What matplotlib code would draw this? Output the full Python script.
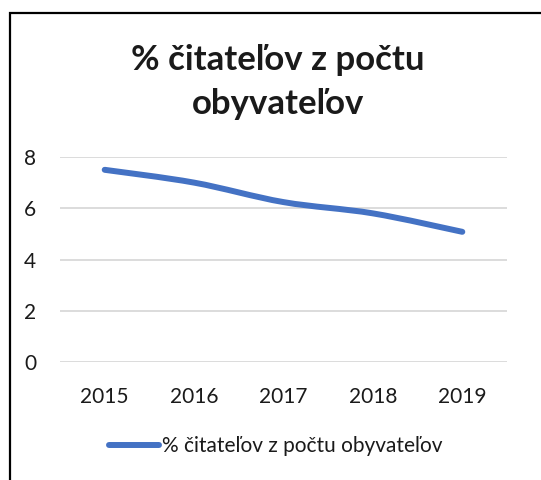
import matplotlib
matplotlib.use("Agg")
import matplotlib.pyplot as plt
from matplotlib.path import Path
from matplotlib.patches import PathPatch, Rectangle
from matplotlib.lines import Line2D
import numpy as np

years = ["2015", "2016", "2017", "2018", "2019"]
values = [7.5, 7.0, 6.24, 5.8, 5.08]
series_name = "% čitateľov z počtu obyvateľov"
title = "% čitateľov z počtu\nobyvateľov"
yticks = [0, 2, 4, 6, 8]

plt.rcParams['font.family'] = ['Lato', 'DejaVu Sans']
color = "#4472C4"
text_color = "#1a1a1a"

W, H = 541, 480
fig = plt.figure(figsize=(W / 100, H / 100), dpi=100)
ax = fig.add_axes([60 / W, 1 - 362 / H, (507 - 60) / W, (362 - 157) / H])

x = np.arange(len(years))
y = np.array(values, dtype=float)

# Smoothed line (Bezier segments through the data points, like Excel smoothing)
t = 1 / 6
verts = [(x[0], y[0])]
codes = [Path.MOVETO]
n = len(x)
for i in range(n - 1):
    p0 = (x[i - 1], y[i - 1]) if i > 0 else (x[i], y[i])
    p1 = (x[i], y[i])
    p2 = (x[i + 1], y[i + 1])
    p3 = (x[i + 2], y[i + 2]) if i + 2 < n else (x[i + 1], y[i + 1])
    c1 = (p1[0] + (p2[0] - p0[0]) * t, p1[1] + (p2[1] - p0[1]) * t)
    c2 = (p2[0] - (p3[0] - p1[0]) * t, p2[1] - (p3[1] - p1[1]) * t)
    verts += [c1, c2, p2]
    codes += [Path.CURVE4] * 3
patch = PathPatch(Path(verts, codes), facecolor="none", edgecolor=color,
                  linewidth=4.3, capstyle="round", joinstyle="round", zorder=3)
ax.add_patch(patch)

ax.set_xlim(-0.5, len(years) - 0.5)
ax.set_ylim(0, 8)
ax.set_xticks(x)
ax.set_xticklabels(years)
ax.set_yticks(yticks)
ax.set_yticklabels([str(v) for v in yticks])
ax.tick_params(axis="both", length=0, labelsize=15, colors=text_color)
ax.tick_params(axis="y", pad=17)
ax.tick_params(axis="x", pad=18)
for s in ax.spines.values():
    s.set_visible(False)
ax.grid(axis="y", color="#D9D9D9", linewidth=1.3)
ax.set_axisbelow(True)

fig.text(278 / W, 1 - 82 / H, title, ha="center", va="center",
         fontsize=25, fontweight="bold", color=text_color, linespacing=1.45)

handle = Line2D([0], [0], color=color, linewidth=4.3, solid_capstyle="round")
fig.legend([handle], [series_name], loc="center", bbox_to_anchor=(276 / W, 1 - 446 / H),
           frameon=False, fontsize=15, handlelength=2.4, handletextpad=0.15,
           labelcolor=text_color)

fig.patches.append(Rectangle((10 / W, -0.1), 1.2, 1.1 - 13 / H, transform=fig.transFigure,
                             fill=False, edgecolor="black", linewidth=1.6, figure=fig))

fig.savefig("out.png", dpi=100, facecolor="white")
